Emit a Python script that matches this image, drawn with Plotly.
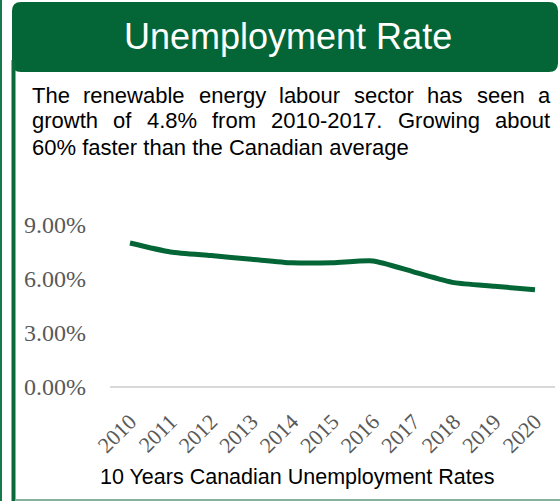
import plotly.graph_objects as go

# ---- data ----
years = ["2010", "2011", "2012", "2013", "2014", "2015",
         "2016", "2017", "2018", "2019", "2020"]
rates = [8.0, 7.5, 7.3, 7.1, 6.9, 6.9, 7.0, 6.4, 5.8, 5.6, 5.4]
y_ticks = [0, 3, 6, 9]
y_tick_labels = ["0.00%", "3.00%", "6.00%", "9.00%"]

title_text = "Unemployment Rate"
body_lines = [
    "The renewable energy labour sector has seen a",
    "growth of 4.8% from 2010-2017. Growing about",
    "60% faster than the Canadian average",
]
caption_text = "10 Years Canadian Unemployment Rates"

# ---- canvas helpers (pixel -> paper) ----
W, H = 560, 501


def px(x):
    return x / W


def py(y):
    return 1 - y / H


GREEN = "#046536"
SANS = "Liberation Sans, Arial, sans-serif"
SERIF = "Liberation Serif, Times New Roman, serif"

# Arial / Liberation Sans advance widths (per 1000 em)
ARIAL = {" ": 278, "%": 889, "-": 333, ".": 278,
         "A": 667, "C": 722, "G": 778, "T": 611, "U": 722, "R": 722, "Y": 667,
         "a": 556, "b": 556, "c": 500, "d": 556, "e": 556, "f": 278, "g": 556,
         "h": 556, "i": 222, "k": 500, "l": 222, "m": 833, "n": 556, "o": 556,
         "p": 556, "r": 333, "s": 500, "t": 278, "u": 556, "v": 500, "w": 722,
         "x": 500, "y": 500}
for d in "0123456789":
    ARIAL[d] = 556


def text_width(s, size):
    return sum(ARIAL.get(c, 556) for c in s) * size / 1000.0


fig = go.Figure()

fig.add_trace(go.Scatter(
    x=years, y=rates, mode="lines",
    line=dict(color=GREEN, width=5, shape="spline", smoothing=0.6),
    hoverinfo="skip", showlegend=False,
))

# plot area
x_left, x_right = 109.75, 555.25
y_zero, y_top = 387.0, 216.0

fig.update_layout(
    width=W, height=H,
    margin=dict(l=0, r=0, t=0, b=0, autoexpand=False),
    paper_bgcolor="white", plot_bgcolor="white",
    showlegend=False,
    xaxis=dict(
        domain=[px(x_left), px(x_right)],
        type="category", range=[-0.5, 10.5],
        automargin=False,
        showgrid=False, zeroline=False, showline=False,
        tickangle=-45,
        ticks="outside", ticklen=12, tickcolor="rgba(0,0,0,0)",
        tickfont=dict(family=SERIF, size=22, color="#595959"),
        fixedrange=True,
    ),
    yaxis=dict(
        domain=[py(y_zero), py(y_top)],
        range=[0, 9.5],
        automargin=False,
        tickvals=y_ticks, ticktext=y_tick_labels,
        showgrid=False, showline=False,
        zeroline=True, zerolinecolor="#d9d9d9", zerolinewidth=1.5,
        ticks="outside", ticklen=18, tickcolor="rgba(0,0,0,0)",
        tickfont=dict(family=SERIF, size=24, color="#595959"),
        fixedrange=True,
    ),
)

shapes = []
# thin rule along the left edge
shapes.append(dict(type="line", xref="paper", yref="paper",
                   x0=px(1), x1=px(1), y0=py(0), y1=py(H),
                   line=dict(color="#17784a", width=2)))
# thick rule under the header
shapes.append(dict(type="line", xref="paper", yref="paper",
                   x0=px(13.5), x1=px(13.5), y0=py(60), y1=py(H),
                   line=dict(color="#0a6a3a", width=4)))
# bottom rule
shapes.append(dict(type="line", xref="paper", yref="paper",
                   x0=px(15), x1=px(W), y0=py(500), y1=py(500),
                   line=dict(color="#86b3a0", width=2)))

# rounded header box
x0, x1, y0, y1, r = 12, 558, 2, 72, 9
pts = [
    ("M", x0 + r, y0), ("L", x1 - r, y0), ("Q", x1, y0, x1, y0 + r),
    ("L", x1, y1 - r), ("Q", x1, y1, x1 - r, y1),
    ("L", x0 + r, y1), ("Q", x0, y1, x0, y1 - r),
    ("L", x0, y0 + r), ("Q", x0, y0, x0 + r, y0),
]
path = ""
for p in pts:
    cmd, coords = p[0], p[1:]
    xy = []
    for i in range(0, len(coords), 2):
        xy.append(f"{px(coords[i]):.5f},{py(coords[i + 1]):.5f}")
    path += cmd + " " + " ".join(xy) + " "
path += "Z"
shapes.append(dict(type="path", xref="paper", yref="paper", path=path,
                   fillcolor=GREEN, line=dict(width=0), layer="below"))
fig.update_layout(shapes=shapes)

annotations = []
annotations.append(dict(
    text=title_text, xref="paper", yref="paper",
    x=px(288.5), y=py(37), xanchor="center", yanchor="middle",
    showarrow=False, font=dict(family=SANS, size=36, color="white"),
))

# justified paragraph: one annotation per word on full lines,
# the closing line is set flush left as a single run
body_size = 22
left, right = 31, 549
baselines = [102, 128, 154]
for li, line in enumerate(body_lines):
    ypos = py(baselines[li] - 7)
    if li == len(body_lines) - 1:
        annotations.append(dict(
            text=line, xref="paper", yref="paper",
            x=px(left - 1), y=ypos, xanchor="left", yanchor="middle",
            showarrow=False,
            font=dict(family=SANS, size=body_size, color="black"),
        ))
        continue
    words = line.split(" ")
    widths = [text_width(w, body_size) for w in words]
    gap = (right - left - sum(widths)) / (len(words) - 1)
    xpos = left
    for w, wd in zip(words, widths):
        annotations.append(dict(
            text=w, xref="paper", yref="paper",
            x=px(xpos - 1), y=ypos,
            xanchor="left", yanchor="middle", showarrow=False,
            font=dict(family=SANS, size=body_size, color="black"),
        ))
        xpos += wd + gap

annotations.append(dict(
    text=caption_text, xref="paper", yref="paper",
    x=px(296.5), y=py(477), xanchor="center", yanchor="middle",
    showarrow=False, font=dict(family=SANS, size=21.5, color="black"),
))
fig.update_layout(annotations=annotations)

fig.write_html(
    "out.html",
    config=dict(displayModeBar=False),
    post_script="document.body.style.margin='0';"
                "document.body.style.overflow='hidden';",
)
